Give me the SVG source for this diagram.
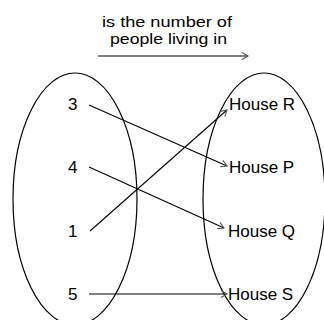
<svg xmlns="http://www.w3.org/2000/svg" width="324" height="320" viewBox="0 0 324 320">
<defs>
<style>
.t{font-family:"Liberation Sans",Arial,sans-serif;font-size:17px;fill:#000}
.h{font-family:"Liberation Sans",Arial,sans-serif;font-size:15px;fill:#000}
.e{fill:none;stroke:#000;stroke-width:1.2}
.c{fill:none;stroke:#000;stroke-width:1.1}
</style>
<marker id="ah" markerWidth="8" markerHeight="8" refX="7" refY="4" orient="auto" markerUnits="userSpaceOnUse">
<path d="M1,0.5 L7,4 L1,7.5" fill="none" stroke="#555" stroke-width="1.1"/>
</marker>
</defs>
<rect width="324" height="320" fill="#fff"/>
<g id="title">
<text class="h" x="102" y="27" textLength="130" lengthAdjust="spacingAndGlyphs">is the number of</text>
<text class="h" x="110" y="44" textLength="117" lengthAdjust="spacingAndGlyphs">people living in</text>
<line class="c" x1="98" y1="56" x2="248" y2="56" marker-end="url(#ah)"/>
</g>
<g id="domain"><ellipse class="e" cx="75" cy="199" rx="62" ry="126"/></g>
<g id="codomain"><ellipse class="e" cx="264" cy="199" rx="61" ry="126"/></g>
<g id="n3"><text class="t" x="68" y="110">3</text></g>
<g id="n4"><text class="t" x="68" y="173">4</text></g>
<g id="n1"><text class="t" x="68" y="237">1</text></g>
<g id="n5"><text class="t" x="68" y="300">5</text></g>
<g id="hR"><text class="t" x="229" y="110">House R</text></g>
<g id="hP"><text class="t" x="229" y="173">House P</text></g>
<g id="hQ"><text class="t" x="228" y="237">House Q</text></g>
<g id="hS"><text class="t" x="228" y="300">House S</text></g>
<g id="connectors">
<line class="c" x1="89" y1="105" x2="227" y2="166" marker-end="url(#ah)"/>
<line class="c" x1="89" y1="167" x2="224" y2="228" marker-end="url(#ah)"/>
<line class="c" x1="90" y1="231" x2="227" y2="110" marker-end="url(#ah)"/>
<line class="c" x1="89" y1="294" x2="227" y2="294" marker-end="url(#ah)"/>
</g>
</svg>
